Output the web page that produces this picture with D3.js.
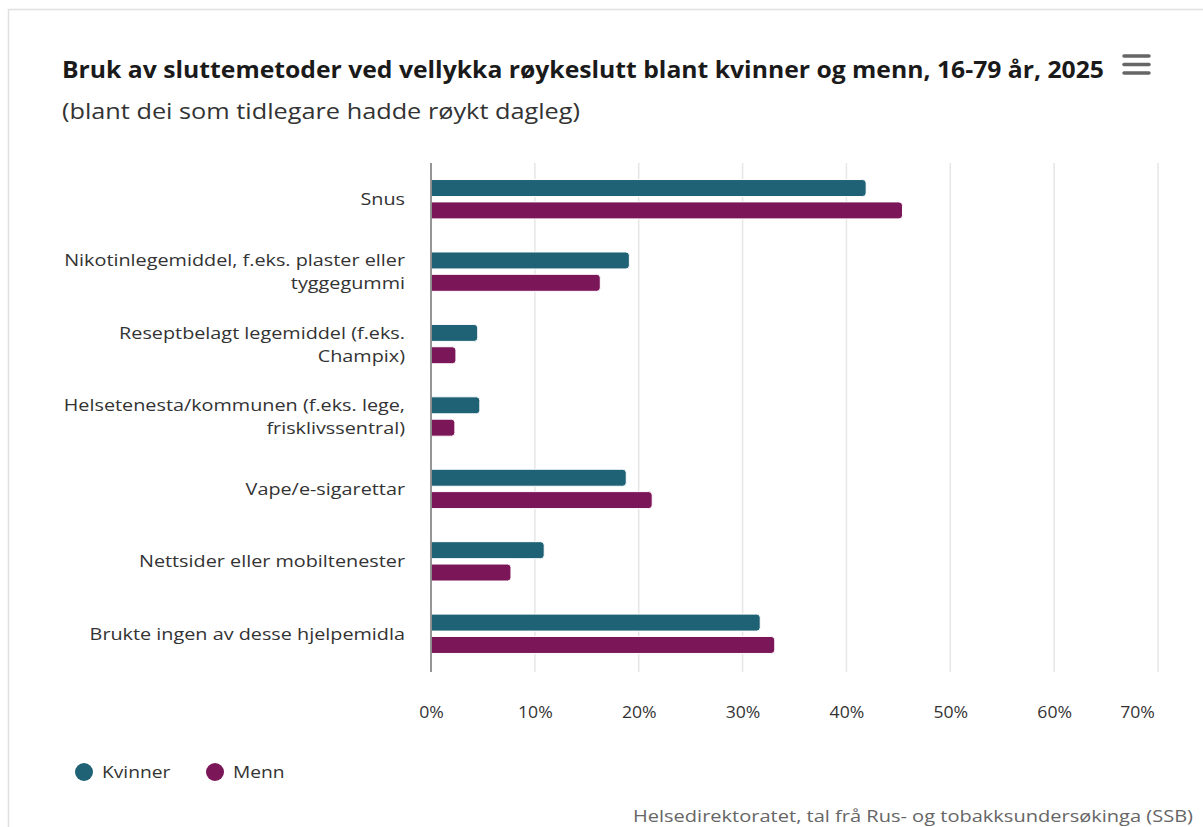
<!DOCTYPE html>
<html>
<head>
<meta charset="utf-8">
<script src="https://cdn.jsdelivr.net/npm/d3@7"></script>
<style>
  html, body { margin: 0; padding: 0; background: #fff; }
  svg { display: block; font-family: "Open Sans", "Noto Sans", sans-serif; }
</style>
</head>
<body>
<svg id="chart" width="1203" height="827"></svg>
<script>
// Methods used for successful smoking cessation, by sex (percent)
const categories = [
  "Snus",
  "Nikotinlegemiddel, f.eks. plaster eller tyggegummi",
  "Reseptbelagt legemiddel (f.eks. Champix)",
  "Helsetenesta/kommunen (f.eks. lege, frisklivssentral)",
  "Vape/e-sigarettar",
  "Nettsider eller mobiltenester",
  "Brukte ingen av desse hjelpemidla"
];
const seriesNames = ["Kvinner", "Menn"];
const kvinner = [41.9, 19.1, 4.5, 4.7, 18.8, 10.9, 31.7];
const menn = [45.4, 16.3, 2.4, 2.3, 21.3, 7.7, 33.1];
const seriesColors = ["#1f6275", "#7b1658"];
const xTicks = [0, 10, 20, 30, 40, 50, 60, 70];

const title = "Bruk av sluttemetoder ved vellykka røykeslutt blant kvinner og menn, 16-79 år, 2025";
const subtitle = "(blant dei som tidlegare hadde røykt dagleg)";
const credits = "Helsedirektoratet, tal frå Rus- og tobakksundersøkinga (SSB)";

const svg = d3.select("#chart");
const W = 1203, H = 827;
const WIDE = 1.2; // horizontal widening applied to regular text

// widen a text element horizontally by a factor (or to an exact width)
function widen(sel, factor, exact) {
  sel.each(function () {
    const len = this.getComputedTextLength();
    const target = exact || len * factor;
    d3.select(this).attr("textLength", target).attr("lengthAdjust", "spacingAndGlyphs");
  });
  return sel;
}

// outer frame (top and left edges visible)
svg.append("rect").attr("x", 8.5).attr("y", 9.5).attr("width", W + 10).attr("height", H + 10)
  .attr("fill", "#fff").attr("stroke", "#e0e0e0").attr("stroke-width", 1.5);

const plot = { left: 431, right: 1158, top: 163, bottom: 670 };

const x = d3.scaleLinear().domain([0, 70]).range([plot.left, plot.right]);
const y = d3.scaleBand().domain(categories).range([plot.top, plot.bottom]).padding(0);
const yInner = d3.scaleBand().domain(seriesNames).range([0, y.bandwidth()])
  .paddingInner(0.24).paddingOuter(0.74);

// title + subtitle
widen(svg.append("text").attr("x", 62).attr("y", 78)
  .attr("font-size", 23.5).attr("font-weight", 700).attr("fill", "#1a1a1a")
  .text(title), 1, 1042);
widen(svg.append("text").attr("x", 62).attr("y", 119)
  .attr("font-size", 22).attr("fill", "#333")
  .text(subtitle), 1, 518);

// context menu icon
const menu = svg.append("g").attr("stroke", "#666").attr("stroke-width", 3.5).attr("stroke-linecap", "round");
[56, 64.5, 73].forEach(yy => {
  menu.append("line").attr("x1", 1124).attr("x2", 1149).attr("y1", yy).attr("y2", yy);
});

// vertical gridlines
const grid = svg.append("g");
grid.selectAll("line").data(xTicks.slice(1)).join("line")
  .attr("x1", d => x(d)).attr("x2", d => x(d))
  .attr("y1", plot.top).attr("y2", plot.bottom + 2)
  .attr("stroke", "#e6e6e6").attr("stroke-width", 1.5);

// x-axis tick labels
const xAxis = d3.axisBottom(x).tickValues(xTicks).tickSize(0).tickFormat(d => d + "%");
const gx = svg.append("g").attr("transform", `translate(0,${plot.bottom})`).call(xAxis);
gx.select(".domain").remove();
gx.selectAll("text").attr("font-family", "Open Sans, sans-serif").attr("font-size", 16)
  .attr("fill", "#333").attr("y", 48).attr("dy", 0);
widen(gx.selectAll("text"), 1.1);
// keep last label inside the chart area
gx.selectAll(".tick").filter(d => d === 70).select("text").attr("x", -21);

// bars
const data = categories.map((c, i) => ({ cat: c, values: [kvinner[i], menn[i]] }));
const r = 3.5;
function barPath(x0, y0, w, h) {
  const rr = Math.min(r, w / 2, h / 2);
  return `M${x0},${y0}H${x0 + w - rr}Q${x0 + w},${y0} ${x0 + w},${y0 + rr}V${y0 + h - rr}Q${x0 + w},${y0 + h} ${x0 + w - rr},${y0 + h}H${x0}Z`;
}
const groups = svg.append("g").selectAll("g").data(data).join("g")
  .attr("transform", d => `translate(0,${y(d.cat)})`);
groups.selectAll("path").data(d => d.values.map((v, j) => ({ v, s: seriesNames[j], j })))
  .join("path")
  .attr("d", d => barPath(x(0), yInner(d.s), x(d.v) - x(0), yInner.bandwidth()))
  .attr("fill", d => seriesColors[d.j])
  .attr("stroke", "#fff").attr("stroke-width", 1);

// y-axis line
svg.append("line").attr("x1", plot.left).attr("x2", plot.left)
  .attr("y1", plot.top).attr("y2", plot.bottom + 2)
  .attr("stroke", "#8a8a8a").attr("stroke-width", 1.8);

// category labels, word-wrapped and right-aligned
const labelMax = 350;
const lineH = 23;
const labels = svg.append("g").attr("font-size", 16.5).attr("fill", "#333").attr("text-anchor", "end");
categories.forEach(c => {
  const words = c.split(" ");
  const lines = [];
  let cur = [];
  const probe = labels.append("text").attr("visibility", "hidden");
  words.forEach(w => {
    const trial = cur.concat([w]).join(" ");
    probe.text(trial);
    if (cur.length && probe.node().getComputedTextLength() * WIDE > labelMax) {
      lines.push(cur.join(" "));
      cur = [w];
    } else cur.push(w);
  });
  lines.push(cur.join(" "));
  probe.remove();
  const cy = y(c) + y.bandwidth() / 2;
  const firstBase = cy - (lines.length - 1) * lineH / 2 + 6;
  lines.forEach((ln, k) => {
    widen(labels.append("text").attr("x", 405).attr("y", firstBase + k * lineH).text(ln), WIDE);
  });
});

// legend
const legend = svg.append("g");
const legendX = [84, 215];
seriesNames.forEach((s, i) => {
  legend.append("circle").attr("cx", legendX[i]).attr("cy", 772).attr("r", 9).attr("fill", seriesColors[i]);
  widen(legend.append("text").attr("x", legendX[i] + 18).attr("y", 778)
    .attr("font-size", 17).attr("fill", "#333").text(s), 1.13);
});

// credits
widen(svg.append("text").attr("x", 1193).attr("y", 822).attr("text-anchor", "end")
  .attr("font-size", 16.5).attr("fill", "#666").text(credits), 1, 560);
</script>
</body>
</html>
